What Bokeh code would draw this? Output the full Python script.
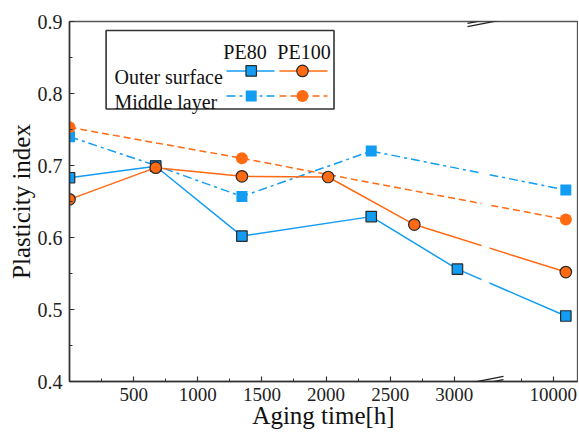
from bokeh.plotting import figure
from bokeh.models import Range1d, FixedTicker, SingleIntervalTicker, Arrow, PrintfTickFormatter
from bokeh.core.properties import value
from bokeh.embed import file_html
from bokeh.resources import INLINE

# ---------------- data ----------------
x_tick_values = [500, 1000, 1500, 2000, 2500, 3000, 10000]
x_tick_labels = ["500", "1000", "1500", "2000", "2500", "3000", "10000"]
x_minor_values = [250, 750, 1250, 1750, 2250, 2750, 9800]

pe80_outer_x = [0, 672, 1344, 2352, 3024, 10080]
pe80_outer_y = [0.683, 0.699, 0.602, 0.629, 0.556, 0.491]

pe100_outer_x = [0, 672, 1344, 2016, 2688, 10080]
pe100_outer_y = [0.653, 0.697, 0.685, 0.684, 0.618, 0.552]

pe80_middle_x = [0, 672, 1344, 2352, 10080]
pe80_middle_y = [0.740, 0.700, 0.657, 0.720, 0.666]

pe100_middle_x = [0, 1344, 10080]
pe100_middle_y = [0.753, 0.710, 0.625]

# ---------------- broken x-axis transform ----------------
POST_START = 3770      # display position of 10000
POST_SCALE = 1.2375

def disp(x):
    return x if x <= 3500 else POST_START + (x - 10000) * POST_SCALE

def dlist(xs):
    return [disp(v) for v in xs]

BLUE = "#129CF2"
ORANGE = "#FF6A12"
EDGE = "#2a2a2a"
FONT = "Liberation Serif"

W, H = 578, 431
ML, MR, MT, MB = 69, 1, 21, 48
XMAX = 3960
p = figure(width=W, height=H, output_backend="svg", toolbar_location=None,
           x_range=Range1d(0, XMAX), y_range=Range1d(0.4, 0.9),
           min_border_left=ML, min_border_right=MR, min_border_top=MT, min_border_bottom=MB)
p.xgrid.visible = False
p.ygrid.visible = False
p.background_fill_color = "white"
p.border_fill_color = "white"
p.outline_line_color = "#555555"
p.outline_line_width = 1.3

# pixel -> data helpers for decorations (canvas origin at page 0,0)
FL = ML
FW = W - ML - MR
FT = MT
FH = H - MT - MB
def px2x(px):
    return (px - FL) / FW * XMAX
def py2y(py):
    return 0.9 - (py - FT) / FH * 0.5

# axes
xt = [disp(v) for v in x_tick_values]
p.xaxis.ticker = FixedTicker(ticks=xt, minor_ticks=[disp(v) for v in x_minor_values])
p.xaxis.major_label_overrides = {t: l for t, l in zip(xt, x_tick_labels)}
p.yaxis.ticker = SingleIntervalTicker(interval=0.1, num_minor_ticks=2)
p.yaxis.formatter = PrintfTickFormatter(format="%.1f")
for ax in (p.xaxis[0], p.yaxis[0]):
    ax.axis_line_color = "#333333"
    ax.axis_line_width = 1.6
    ax.major_tick_line_color = "#333333"
    ax.minor_tick_line_color = "#333333"
    ax.major_tick_line_width = 1.2
    ax.minor_tick_line_width = 1.0
    ax.major_tick_in = 5
    ax.major_tick_out = 0
    ax.minor_tick_in = 3
    ax.minor_tick_out = 0
    ax.major_label_text_font = FONT
    ax.major_label_text_color = "#222222"
    ax.axis_label_text_font = FONT
    ax.axis_label_text_font_style = "normal"
    ax.axis_label_text_color = "#111111"
p.xaxis.major_label_text_font_size = "19px"
p.yaxis.major_label_text_font_size = "20px"
p.xaxis.major_label_standoff = 6
p.yaxis.major_label_standoff = 7
p.yaxis.axis_label = "Plasticity index"
p.yaxis.axis_label_text_font_size = "25px"
p.yaxis.axis_label_standoff = 0
p.xaxis.axis_label = "Aging time[h]"
p.xaxis.axis_label_text_font_size = "25px"
p.xaxis.axis_label_standoff = -2

# ---------------- series ----------------
p.line(dlist(pe80_middle_x), pe80_middle_y, line_color=BLUE, line_width=1.5, line_dash="9 4 3 4")
p.line(dlist(pe100_middle_x), pe100_middle_y, line_color=ORANGE, line_width=1.5, line_dash="7 4")
p.line(dlist(pe80_outer_x), pe80_outer_y, line_color=BLUE, line_width=1.5)
p.line(dlist(pe100_outer_x), pe100_outer_y, line_color=ORANGE, line_width=1.5)

# break gap in the lines
p.quad(left=[px2x(481)], right=[px2x(489)], bottom=[0.402], top=[0.898],
       fill_color="white", line_color=None)

p.scatter(dlist(pe80_middle_x), pe80_middle_y, marker="square", size=11,
          fill_color=BLUE, line_color=None)
p.scatter(dlist(pe100_middle_x), pe100_middle_y, marker="circle", size=12,
          fill_color=ORANGE, line_color=None)
p.scatter(dlist(pe80_outer_x), pe80_outer_y, marker="square", size=10.5,
          fill_color=BLUE, line_color=EDGE, line_width=1.2)
p.scatter(dlist(pe100_outer_x), pe100_outer_y, marker="circle", size=11.5,
          fill_color=ORANGE, line_color=EDGE, line_width=1.2)

# ---------------- break marks ----------------
for ypx in (FT, FT + FH):
    for off in (-1.6, 1.6):
        p.add_layout(Arrow(end=None, start=None,
                           x_start=px2x(467), y_start=py2y(ypx + off + 3.5),
                           x_end=px2x(503), y_end=py2y(ypx + off - 3.5),
                           line_color="#222222", line_width=1.3))

# ---------------- legend (manual) ----------------
p.quad(left=[px2x(105.6)], right=[px2x(333.5)], top=[py2y(30)], bottom=[py2y(109)],
       fill_color="white", line_color="#333333", line_width=1.6)
p.text(x=[px2x(244.5), px2x(303.5)], y=[py2y(51.7)] * 2, text=["PE80", "PE100"],
       text_align="center", text_baseline="alphabetic", text_font=value(FONT),
       text_font_size="20px", text_color="#111111")
p.text(x=[px2x(114)] * 2, y=[py2y(77.3), py2y(101.5)], text=["Outer surface", "Middle layer"],
       text_align="left", text_baseline="alphabetic", text_font=value(FONT),
       text_font_size="20px", text_color="#111111")
r1, r2 = py2y(70.7), py2y(96)
p.line([px2x(226), px2x(274)], [r1, r1], line_color=BLUE, line_width=1.5)
p.line([px2x(279), px2x(327)], [r1, r1], line_color=ORANGE, line_width=1.5)
p.line([px2x(226), px2x(274)], [r2, r2], line_color=BLUE, line_width=1.5, line_dash="9 4 3 4")
p.line([px2x(279), px2x(327)], [r2, r2], line_color=ORANGE, line_width=1.5, line_dash="7 4")
p.scatter([px2x(250.7)], [r1], marker="square", size=10.5, fill_color=BLUE, line_color=EDGE, line_width=1.2)
p.scatter([px2x(302)], [r1], marker="circle", size=11.5, fill_color=ORANGE, line_color=EDGE, line_width=1.2)
p.scatter([px2x(250.7)], [r2], marker="square", size=11, fill_color=BLUE, line_color=None)
p.scatter([px2x(302)], [r2], marker="circle", size=12, fill_color=ORANGE, line_color=None)

open("out.html", "w").write(file_html(p, INLINE))
